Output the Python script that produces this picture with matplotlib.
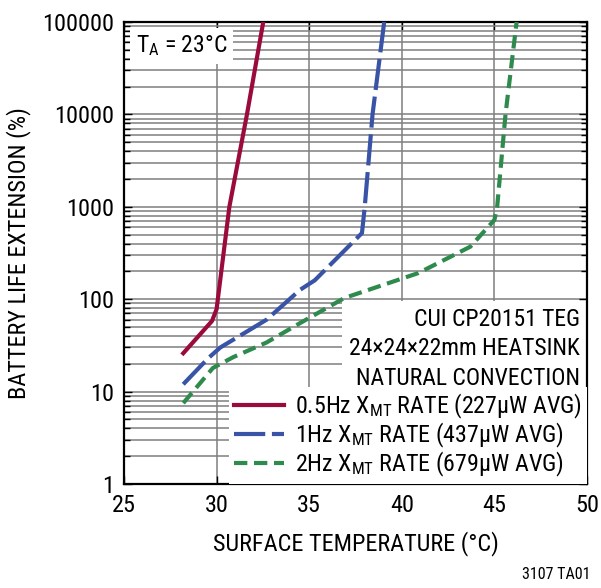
import matplotlib
matplotlib.use('Agg')
import matplotlib.pyplot as plt
from matplotlib.ticker import LogLocator, NullFormatter, FixedLocator

plt.rcParams['font.family'] = ['Roboto Condensed', 'Liberation Sans', 'DejaVu Sans']
plt.rcParams['font.size'] = 17
plt.rcParams['mathtext.default'] = 'regular'

# data
temp_05 = [28.2, 29.75, 30.0, 30.69, 31.64, 32.52]
ext_05 = [26, 58, 78, 1000, 10000, 100000]

temp_1 = [28.2, 29.55, 30.2, 31.5, 32.7, 34.5, 35.3, 37.85, 38.0, 38.42, 39.05]
ext_1 = [12, 23, 30, 43, 60, 126, 160, 520, 1000, 10000, 100000]

temp_2 = [28.2, 29.8, 30.9, 32.7, 34.5, 36.9, 40.9, 43.7, 45.0, 45.15, 45.6, 46.2]
ext_2 = [7.5, 18, 23.6, 34, 55, 103, 192, 370, 720, 1000, 10000, 100000]

labels = ['0.5Hz X$_{MT}$ RATE (227µW AVG)',
          '1Hz X$_{MT}$ RATE (437µW AVG)',
          '2Hz X$_{MT}$ RATE (679µW AVG)']
xticks = [25, 30, 35, 40, 45, 50]
yticks = [1, 10, 100, 1000, 10000, 100000]
ytick_labels = ['1', '10', '100', '1000', '10000', '100000']

red = '#9b0a3c'
blue = '#3953a6'
green = '#2f8a4e'
gridc = '#7f7f7f'

fig = plt.figure(figsize=(6.01, 5.88), dpi=100)
ax = fig.add_axes([0.2063, 0.1769, 0.7704, 0.7857])
ax.set_yscale('log')
ax.set_xlim(25, 50)
ax.set_ylim(1, 100000)
ax.set_axisbelow(True)

ax.xaxis.set_major_locator(FixedLocator(xticks))
ax.set_xticklabels([str(t) for t in xticks])
ax.yaxis.set_major_locator(FixedLocator(yticks))
ax.set_yticklabels(ytick_labels)
ax.yaxis.set_minor_locator(LogLocator(base=10, subs=range(2, 10), numticks=20))
ax.yaxis.set_minor_formatter(NullFormatter())

ax.grid(True, which='major', axis='both', color=gridc, lw=1.1)
ax.grid(True, which='minor', axis='y', color=gridc, lw=1.1)
ax.tick_params(which='both', direction='in', right=True, top=True, colors='black',
               labelsize=17.5, pad=7)
ax.tick_params(which='major', length=6, width=1)
ax.tick_params(which='minor', length=4, width=1)
for s in ax.spines.values():
    s.set_linewidth(1.6)

ax.plot(temp_05, ext_05, color=red, lw=3, solid_joinstyle='miter', label=labels[0], zorder=3)
ax.plot(temp_1, ext_1, color=blue, lw=3, dashes=(7.5, 1.6), label=labels[1], zorder=3)
ax.plot(temp_2, ext_2, color=green, lw=3, dashes=(3.2, 1.6), label=labels[2], zorder=3)

ax.set_xlabel('SURFACE TEMPERATURE (°C)', fontsize=17.5, labelpad=10)
ax.set_ylabel('BATTERY LIFE EXTENSION (%)', fontsize=17.5, labelpad=8)

ax.text(0.025, 0.975, 'T$_A$ = 23°C', transform=ax.transAxes, ha='left', va='top',
        fontsize=17, zorder=1.5,
        bbox=dict(facecolor='white', edgecolor='none', pad=4))
ax.text(0.984, 0.382, 'CUI CP20151 TEG\n24×24×22mm HEATSINK\nNATURAL CONVECTION',
        transform=ax.transAxes, ha='right', va='top', fontsize=17, linespacing=1.38,
        multialignment='right', zorder=1.5,
        bbox=dict(facecolor='white', edgecolor='none', pad=5))

leg = ax.legend(loc='lower right', bbox_to_anchor=(1.0, 0.0), fontsize=17.3,
                frameon=True, fancybox=False, framealpha=1, facecolor='white',
                edgecolor='none', handlelength=2.1, handletextpad=0.45,
                labelspacing=0.0, borderpad=0.2, borderaxespad=0.0)

fig.text(0.982, 0.01, '3107 TA01', ha='right', va='bottom', fontsize=11.5)

fig.savefig('out.png', dpi=100)
